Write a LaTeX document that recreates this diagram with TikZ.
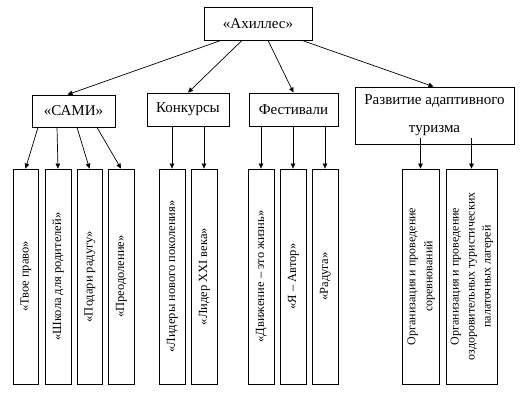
\documentclass[tikz,border=0pt]{standalone}
\usepackage{fontspec}
\setmainfont{Liberation Serif}
\usetikzlibrary{arrows.meta}
\newcommand{\vtext}[1]{\rotatebox{90}{\begin{tabular}{@{}c@{}}#1\end{tabular}}}

\begin{document}
\begin{tikzpicture}[x=1pt,y=1pt,
  every node/.style={align=center},
  box/.style={draw,line width=0.8pt,inner sep=0pt,font=\fontsize{15}{18}\selectfont},
  leaf/.style={draw,line width=0.8pt,inner sep=0pt,minimum width=26pt,minimum height=215pt,
    font=\fontsize{12.5}{16}\selectfont},
  arr/.style={-{Triangle[length=5pt,width=4.5pt]},line width=0.7pt}
]
  \useasboundingbox (0,0) rectangle (521,-397);

  \node[box,minimum width=108pt,minimum height=33pt] (akh) at (258,-23.5) {«Ахиллес»};
  \node[box,minimum width=83pt,minimum height=32pt] (sami) at (73.5,-111) {«САМИ»};
  \node[box,minimum width=82pt,minimum height=33pt] (konk) at (188,-109.5) {Конкурсы};
  \node[box,minimum width=89pt,minimum height=33pt] (fest) at (293.5,-109.5) {Фестивали};
  \node[box,minimum width=159pt,minimum height=57pt,font=\fontsize{15}{28}\selectfont] (razv)
    at (434.5,-115.5) {Развитие адаптивного\\туризма};

  \node[leaf,minimum width=25pt] (tvoe) at (25.5,-276.5) {\vtext{«Твое право»}};
  \node[leaf] (shkola) at (58,-276.5) {\vtext{«Школа для родителей»}};
  \node[leaf,minimum width=25pt] (podari) at (89.5,-276.5) {\vtext{«Подари радугу»}};
  \node[leaf] (preod) at (121,-276.5) {\vtext{«Преодоление»}};
  \node[leaf] (lidery) at (172,-276.5) {\vtext{«Лидеры нового поколения»}};
  \node[leaf] (lider) at (204,-276.5) {\vtext{«Лидер XXI века»}};
  \node[leaf] (dvizh) at (261,-276.5) {\vtext{«Движение – это жизнь»}};
  \node[leaf] (avtor) at (293,-276.5) {\vtext{«Я – Автор»}};
  \node[leaf] (raduga) at (325,-276.5) {\vtext{«Радуга»}};
  \node[leaf,minimum width=37pt,font=\fontsize{12}{17}\selectfont] (sorev) at (420.5,-276.5)
    {\vtext{Организация и проведение\\соревнований}};
  \node[leaf,minimum width=51pt,font=\fontsize{12}{16}\selectfont] (lager) at (471.5,-276.5)
    {\vtext{Организация и проведение\\оздоровительных туристических\\палаточных лагерей}};

  \draw[arr] ([xshift=-37pt]akh.south) -- ([xshift=-6pt]sami.north);
  \draw[arr] ([xshift=-16pt]akh.south) -- (konk.north);
  \draw[arr] ([xshift=10pt]akh.south) -- (fest.north);
  \draw[arr] ([xshift=44pt]akh.south) -- ([xshift=-1pt]razv.north);

  \foreach \s/\t in {-35.5/tvoe,-16.5/shkola,3.5/podari,23.5/preod}
    \draw[arr] ([xshift=\s pt]sami.south) -- (\t.north);
  \foreach \t in {lidery,lider}
    \draw[arr] (konk.south -| \t.north) -- (\t.north);
  \foreach \t in {dvizh,avtor,raduga}
    \draw[arr] (fest.south -| \t.north) -- (\t.north);
  \foreach \t in {sorev,lager}
    \draw[arr] ([yshift=6pt]razv.south -| \t.north) -- (\t.north);
\end{tikzpicture}
\end{document}
